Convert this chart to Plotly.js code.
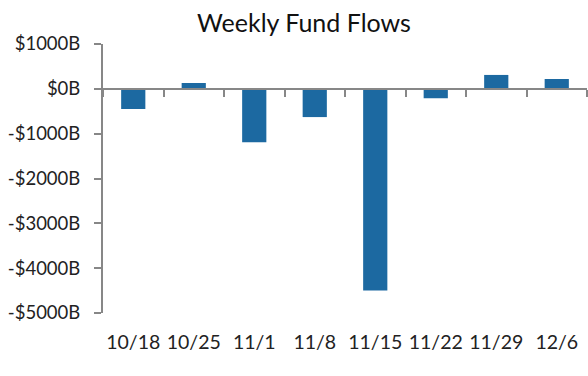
<!DOCTYPE html>
<html>
<head>
<meta charset="utf-8">
<script src="https://cdn.plot.ly/plotly-3.0.1.min.js"></script>
<style>html,body{margin:0;padding:0;background:#fff;}#chart{width:588px;height:376px;}</style>
</head>
<body>
<div id="chart"></div>
<script>
var weeks = ["10/18", "10/25", "11/1", "11/8", "11/15", "11/22", "11/29", "12/6"];
var flows = [-450, 130, -1190, -630, -4500, -210, 310, 220];
var yTickVals = [1000, 0, -1000, -2000, -3000, -4000, -5000];
var yTickText = ["$1000B", "$0B", "-$1000B", "-$2000B", "-$3000B", "-$4000B", "-$5000B"];
var yRange = [-5000, 1000];

var fontFam = "Lato, 'Noto Sans', sans-serif";
var data = [{
  type: "bar",
  x: weeks,
  y: flows,
  marker: {color: "#1c69a1"},
  hoverinfo: "x+y"
}];
var layout = {
  width: 588, height: 376,
  margin: {l: 103, r: 1, t: 44, b: 63},
  paper_bgcolor: "#fff", plot_bgcolor: "#fff",
  bargap: 0.6,
  showlegend: false,
  font: {family: fontFam, color: "#222", size: 18},
  title: {text: "Weekly Fund Flows", x: 0.517, xref: "container", xanchor: "center",
          y: 0.937, yref: "container", yanchor: "middle",
          font: {family: fontFam, size: 25, color: "#111"}},
  xaxis: {
    type: "category", categoryorder: "array", categoryarray: weeks,
    anchor: "free", position: (0 - yRange[0]) / (yRange[1] - yRange[0]),
    showline: true, linecolor: "#878787", linewidth: 2,
    ticks: "outside", tickson: "boundaries", ticklen: 7, tickwidth: 2, tickcolor: "#878787",
    showgrid: false, zeroline: false,
    tickangle: 0,
    ticklabelstandoff: 236,
    tickfont: {family: fontFam, size: 19.5, color: "#222"}
  },
  yaxis: {
    range: yRange, tickvals: yTickVals, ticktext: yTickText,
    showline: true, linecolor: "#878787", linewidth: 2,
    ticks: "outside", ticklen: 7, tickwidth: 2, tickcolor: "#878787",
    showgrid: false, zeroline: false,
    ticklabelstandoff: 10,
    tickfont: {family: fontFam, size: 18.5, color: "#222"}
  }
};
Plotly.newPlot("chart", data, layout, {displayModeBar: false, staticPlot: true});
</script>
</body>
</html>
